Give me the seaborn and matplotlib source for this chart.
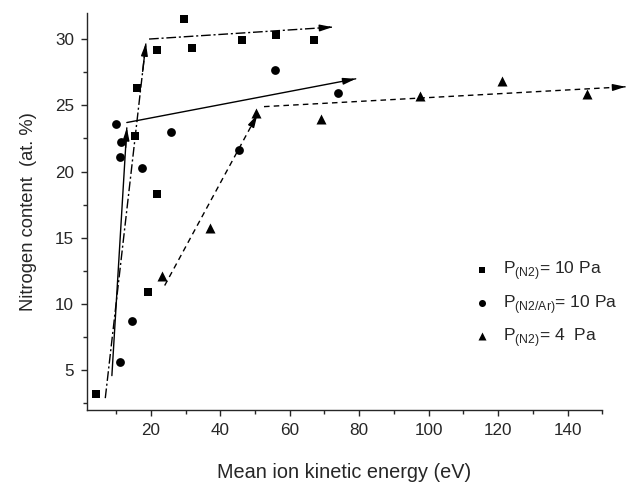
import numpy as np
import pandas as pd
import seaborn as sns
import matplotlib.pyplot as plt
from matplotlib.ticker import MultipleLocator

sq_x = [4.3, 15.5, 15.9, 19.2, 21.7, 21.8, 29.6, 31.8, 46.2, 56.1, 67.1]
sq_y = [3.2, 22.7, 26.3, 10.9, 18.3, 29.2, 31.5, 29.3, 29.9, 30.3, 29.9]
ci_x = [10.0, 11.1, 11.2, 11.5, 14.6, 17.5, 25.8, 45.4, 55.8, 74.0]
ci_y = [23.6, 5.6, 21.1, 22.2, 8.7, 20.3, 23.0, 21.6, 27.7, 25.9]
tr_x = [23.1, 37.0, 50.2, 69.0, 97.4, 121.0, 145.6]
tr_y = [12.1, 15.75, 24.4, 24.0, 25.7, 26.85, 25.85]

labels = [r'P$_{\mathrm{(N2)}}$= 10 Pa',
          r'P$_{\mathrm{(N2/Ar)}}$= 10 Pa',
          r'P$_{\mathrm{(N2)}}$= 4  Pa']

# guide arrows (start, end) for each series
sq_guide = [[(6.9, 2.9), (18.6, 29.7)], [(19.5, 30.0), (72.3, 30.9)]]
ci_guide = [[(8.8, 4.6), (13.1, 23.3)], [(13.1, 23.7), (79.0, 27.0)]]
tr_guide = [[(24.0, 11.4), (50.7, 24.3)], [(52.6, 24.9), (156.7, 26.4)]]

sns.set_style('ticks')
plt.rcParams['font.family'] = ['Liberation Sans', 'DejaVu Sans']
plt.rcParams['mathtext.fontset'] = 'custom'
plt.rcParams['mathtext.rm'] = 'Liberation Sans'

fig = plt.figure(figsize=(6.27, 4.83), dpi=100)
ax = fig.add_axes([0.138, 0.151, 0.8226, 0.823])

for xs, ys, lab, mk, sz in [(sq_x, sq_y, labels[0], 's', 38),
                            (ci_x, ci_y, labels[1], 'o', 40),
                            (tr_x, tr_y, labels[2], '^', 52)]:
    sns.scatterplot(x=xs, y=ys, marker=mk, s=sz, color='black',
                    linewidth=0, label=lab, ax=ax, zorder=3)

# guide lines with filled arrowheads
for guide, ls in [(sq_guide, (0, (7, 2, 1.5, 2))), (ci_guide, '-'), (tr_guide, (0, (4, 3)))]:
    for (x0, y0), (x1, y1) in guide:
        ax.plot([x0, x1], [y0, y1], color='black', lw=1.0, linestyle=ls, clip_on=False)
        f = 0.02 if abs(x1 - x0) > 20 else 0.08
        ax.annotate('', xy=(x1, y1), xytext=(x1 - (x1 - x0) * f, y1 - (y1 - y0) * f),
                    arrowprops=dict(arrowstyle='-|>,head_length=0.75,head_width=0.2',
                                    color='black', lw=1.0, shrinkA=0, shrinkB=0),
                    annotation_clip=False)

ax.set_xlim(1.5, 150)
ax.set_ylim(2, 32)
ax.xaxis.set_major_locator(MultipleLocator(20))
ax.xaxis.set_minor_locator(MultipleLocator(10))
ax.yaxis.set_major_locator(MultipleLocator(5))
ax.yaxis.set_minor_locator(MultipleLocator(2.5))
ax.tick_params(which='major', length=4, width=1, labelsize=12.3, direction='out', pad=5)
ax.tick_params(which='minor', length=3, width=1, direction='out')
sns.despine(ax=ax)
for sp in ax.spines.values():
    sp.set_linewidth(1)

ax.set_xlabel('Mean ion kinetic energy (eV)', fontsize=14.3, labelpad=18)
ax.set_ylabel('Nitrogen content  (at. %)', fontsize=13.2, labelpad=13)

ax.legend(frameon=False, loc='upper left', bbox_to_anchor=(0.737, 0.397),
          fontsize=12.6, handlelength=1, handletextpad=0.65, labelspacing=0.6,
          markerscale=0.8, borderaxespad=0)

plt.savefig('out.png', dpi=100)
